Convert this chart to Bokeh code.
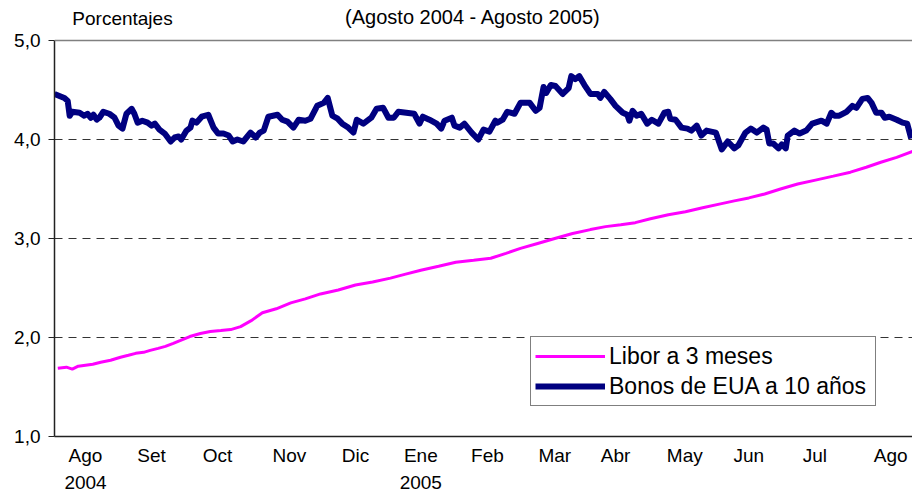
from bokeh.plotting import figure
from bokeh.models import (Range1d, FixedTicker, Label, Span, Legend, LegendItem)
from bokeh.embed import file_html
from bokeh.resources import INLINE

# Time axis: months elapsed since 1 Aug 2004
bono_mes = [0.00, 0.15, 0.20, 0.23, 0.27, 0.38, 0.45, 0.50, 0.55, 0.59, 0.64, 0.68, 0.74, 0.83, 0.91,
            0.97, 1.03, 1.09, 1.17, 1.21, 1.26, 1.33, 1.41, 1.47, 1.52, 1.59, 1.67, 1.76, 1.82, 1.88,
            1.92, 2.00, 2.06, 2.09, 2.15, 2.23, 2.33, 2.41, 2.48, 2.56, 2.64, 2.70, 2.77, 2.86, 2.97,
            3.05, 3.11, 3.17, 3.24, 3.38, 3.45, 3.53, 3.62, 3.70, 3.80, 3.88, 3.98, 4.08, 4.14, 4.21,
            4.29, 4.36, 4.45, 4.53, 4.58, 4.68, 4.80, 4.88, 4.98, 5.06, 5.14, 5.21, 5.33, 5.45, 5.53,
            5.58, 5.68, 5.79, 5.86, 5.91, 6.02, 6.06, 6.14, 6.21, 6.32, 6.42, 6.50, 6.59, 6.68, 6.71,
            6.79, 6.86, 6.97, 7.06, 7.20, 7.29, 7.35, 7.41, 7.45, 7.52, 7.59, 7.70, 7.79, 7.83, 7.89,
            7.95, 8.03, 8.12, 8.23, 8.27, 8.33, 8.42, 8.50, 8.61, 8.68, 8.71, 8.76, 8.82, 8.89, 8.98,
            9.05, 9.15, 9.24, 9.30, 9.33, 9.41, 9.50, 9.59, 9.65, 9.73, 9.80, 9.88, 10.02, 10.11, 10.20,
            10.30, 10.36, 10.47, 10.55, 10.64, 10.74, 10.79, 10.83, 10.89, 10.97, 11.02, 11.08, 11.11,
            11.21, 11.29, 11.39, 11.48, 11.62, 11.70, 11.77, 11.82, 11.89, 12.00, 12.09, 12.15, 12.24,
            12.32, 12.38, 12.45, 12.53, 12.58, 12.65, 12.76, 12.85, 12.92, 12.98]
bono_val = [4.46, 4.42, 4.39, 4.24, 4.28, 4.27, 4.24, 4.26, 4.22, 4.25, 4.20, 4.22, 4.28, 4.26, 4.22,
            4.14, 4.11, 4.26, 4.31, 4.26, 4.17, 4.19, 4.17, 4.14, 4.16, 4.10, 4.06, 3.98, 4.02, 4.03,
            4.00, 4.09, 4.12, 4.19, 4.17, 4.23, 4.25, 4.12, 4.06, 4.06, 4.04, 3.98, 4.00, 3.98, 4.07,
            4.02, 4.07, 4.09, 4.23, 4.25, 4.20, 4.18, 4.12, 4.20, 4.19, 4.21, 4.34, 4.37, 4.42, 4.24,
            4.21, 4.16, 4.12, 4.07, 4.20, 4.16, 4.22, 4.31, 4.32, 4.22, 4.22, 4.28, 4.27, 4.26, 4.16,
            4.23, 4.20, 4.16, 4.11, 4.19, 4.22, 4.14, 4.12, 4.16, 4.07, 4.00, 4.10, 4.08, 4.19, 4.17,
            4.20, 4.28, 4.26, 4.37, 4.37, 4.29, 4.32, 4.53, 4.47, 4.55, 4.54, 4.46, 4.52, 4.64, 4.61,
            4.64, 4.55, 4.46, 4.46, 4.42, 4.48, 4.41, 4.34, 4.27, 4.25, 4.19, 4.29, 4.24, 4.26, 4.16,
            4.20, 4.16, 4.27, 4.28, 4.21, 4.20, 4.12, 4.11, 4.09, 4.14, 4.04, 4.09, 4.07, 3.90, 3.98,
            3.91, 3.94, 4.07, 4.11, 4.07, 4.12, 4.10, 3.96, 3.96, 3.91, 3.95, 3.91, 4.04,
            4.09, 4.06, 4.09, 4.16, 4.19, 4.16, 4.27, 4.24, 4.24, 4.28, 4.34, 4.32, 4.41,
            4.42, 4.37, 4.27, 4.27, 4.22, 4.23, 4.20, 4.17, 4.16, 4.01]

libor_mes = [0.05, 0.18, 0.27, 0.36, 0.47, 0.58, 0.70, 0.85, 1.00, 1.12, 1.23, 1.35, 1.45, 1.57, 1.68,
             1.80, 1.91, 2.05, 2.21, 2.36, 2.52, 2.67, 2.82, 2.98, 3.15, 3.36, 3.58, 3.80, 4.03,
             4.30, 4.56, 4.82, 5.09, 5.32, 5.55, 5.82, 6.08, 6.35, 6.61, 6.84, 7.06, 7.32, 7.58,
             7.85, 8.12, 8.35, 8.58, 8.80, 9.03, 9.30, 9.56, 9.82, 10.09, 10.30, 10.52, 10.76, 11.00,
             11.26, 11.53, 11.80, 12.06, 12.30, 12.52, 12.76, 13.00]
libor_val = [1.69, 1.70, 1.68, 1.71, 1.72, 1.73, 1.75, 1.77, 1.80, 1.82, 1.84, 1.85, 1.87, 1.89, 1.91,
             1.94, 1.97, 2.01, 2.04, 2.06, 2.07, 2.08, 2.11, 2.17, 2.25, 2.29, 2.35, 2.39, 2.44,
             2.48, 2.53, 2.56, 2.60, 2.64, 2.68, 2.72, 2.76, 2.78, 2.80, 2.85, 2.90, 2.95, 3.00,
             3.05, 3.09, 3.12, 3.14, 3.16, 3.20, 3.24, 3.27, 3.31, 3.35, 3.38, 3.41, 3.45, 3.50,
             3.55, 3.59, 3.63, 3.67, 3.72, 3.77, 3.82, 3.88]

mes_pos = [0.47, 1.47, 2.47, 3.56, 4.56, 5.55, 6.56, 7.58, 8.50, 9.55, 10.52, 11.52, 12.67]
mes_etiquetas = ["Ago\n2004", "Set", "Oct", "Nov", "Dic", "Ene\n2005", "Feb", "Mar", "Abr",
                 "May", "Jun", "Jul", "Ago"]
y_ticks = [1, 2, 3, 4, 5]
y_etiquetas = ["1,0", "2,0", "3,0", "4,0", "5,0"]

FONT = "Liberation Sans"

p = figure(width=912, height=495, output_backend="svg", toolbar_location=None,
           x_range=Range1d(0, 13), y_range=Range1d(1, 5 + 40 / 99),
           min_border_left=54, min_border_right=0, min_border_top=0, min_border_bottom=59)
p.outline_line_color = None
p.background_fill_color = "white"
p.border_fill_color = "white"

r_libor = p.line(libor_mes, libor_val, line_color="#FF00FF", line_width=3)
r_bono = p.line(bono_mes, bono_val, line_color="#000080", line_width=6, line_join="round")

p.xgrid.visible = False
p.ygrid.ticker = FixedTicker(ticks=[2, 3, 4])
p.ygrid.grid_line_color = "#333333"
p.ygrid.grid_line_dash = "8 6"
p.ygrid.grid_line_width = 1

p.add_layout(Span(location=5, dimension="width", line_color="#808080", line_width=1.5))

xa = p.xaxis[0]
xa.ticker = FixedTicker(ticks=mes_pos)
xa.major_label_overrides = {t: l for t, l in zip(mes_pos, mes_etiquetas)}
xa.major_tick_out = 0
xa.major_tick_in = 0
xa.minor_tick_out = 0
xa.minor_tick_in = 0
xa.axis_line_color = "#222222"
xa.axis_line_width = 1.5
xa.major_label_text_font = FONT
xa.major_label_text_font_size = "19px"
xa.major_label_text_color = "black"
xa.major_label_text_line_height = 1.3
xa.major_label_standoff = 8

ya = p.yaxis[0]
ya.ticker = FixedTicker(ticks=y_ticks)
ya.bounds = (1, 5)
ya.major_label_overrides = {t: l for t, l in zip(y_ticks, y_etiquetas)}
ya.major_tick_out = 6
ya.major_tick_in = 0
ya.minor_tick_out = 0
ya.minor_tick_in = 0
ya.axis_line_color = "#222222"
ya.axis_line_width = 1.5
ya.major_tick_line_color = "#222222"
ya.major_label_text_font = FONT
ya.major_label_text_font_size = "19px"
ya.major_label_text_color = "black"
ya.major_label_standoff = 8

p.add_layout(Label(x=0.27, y=5.22, text="Porcentajes", text_font=FONT, text_font_size="19px",
                   text_baseline="middle", text_align="left", text_color="black"))
p.add_layout(Label(x=6.34, y=5.24, text="(Agosto 2004 - Agosto 2005)", text_font=FONT,
                   text_font_size="20px", text_baseline="middle", text_align="center",
                   text_color="black"))

legend = Legend(items=[LegendItem(label="Libor a 3 meses", renderers=[r_libor]),
                       LegendItem(label="Bonos de EUA a 10 años", renderers=[r_bono])],
                location=(476, 30), orientation="vertical",
                label_text_font=FONT, label_text_font_size="23px", label_text_color="black",
                padding=4, spacing=0, margin=0, label_height=30, glyph_height=30,
                glyph_width=70, label_standoff=4, label_width=262,
                border_line_color="black", border_line_width=1,
                background_fill_color="white", background_fill_alpha=1.0)
p.add_layout(legend, "center")

html = file_html(p, INLINE)
html = html.replace("<head>", "<head><style>html,body{overflow:hidden;}</style>", 1)
open("out.html", "w").write(html)
